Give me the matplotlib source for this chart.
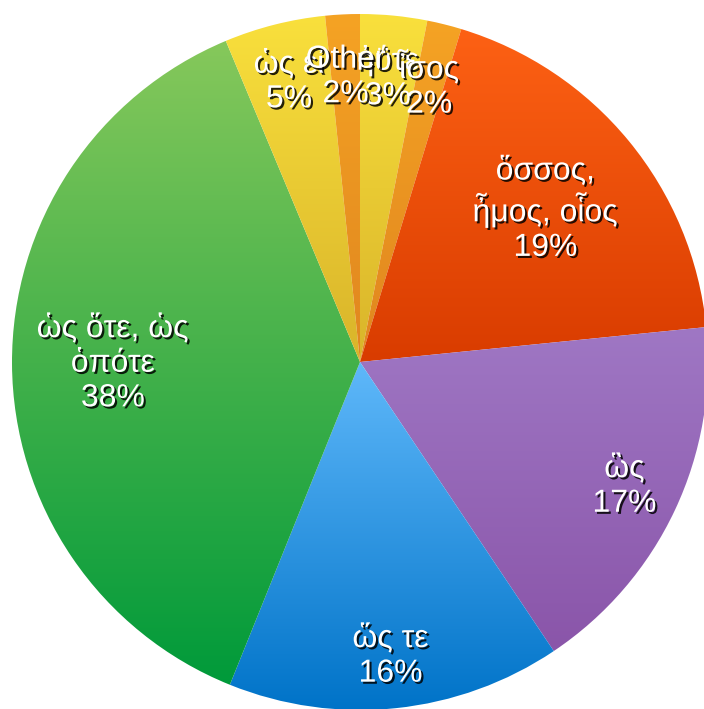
import numpy as np
import matplotlib
matplotlib.use("Agg")
import matplotlib.pyplot as plt
import matplotlib.patheffects as pe
from matplotlib.colors import LinearSegmentedColormap

plt.rcParams['font.family'] = ['Liberation Sans', 'DejaVu Sans']

labels = ["ἠΰτε", "ἶσος", "ὅσσος,\nἦμος, οἷος", "ὣς", "ὥς τε",
          "ὡς ὅτε, ὡς\nὁπότε", "ὡς εἰ", "Other"]
shares = [3.1, 1.6, 18.7, 17.2, 15.5, 37.6, 4.7, 1.6]
top_colors = ["#f9e03c", "#f5a324", "#fd6114", "#9f77c4", "#5fb8fa",
              "#86c85b", "#f9e03c", "#f5a324"]
bottom_colors = ["#d9b42a", "#e0861f", "#d93c00", "#8a55a9", "#0073c8",
                 "#009a3a", "#d9b42a", "#e0861f"]
label_radius = [0.82, 0.82, 0.69, 0.84, 0.85, 0.71, 0.83, 0.82]

W, H = 704, 709
cx, cy, R = 360, H - 362, 348

fig = plt.figure(figsize=(W / 100, H / 100), dpi=100)
ax = fig.add_axes([0, 0, 1, 1])

wedges, _ = ax.pie(shares, center=(cx, cy), radius=R, startangle=90,
                   counterclock=False, frame=True,
                   wedgeprops=dict(linewidth=0))

total = sum(shares)
for w, c0, c1, lab, fr, v in zip(wedges, top_colors, bottom_colors,
                                 labels, label_radius, shares):
    w.set_facecolor("none")
    bb = w.get_path().get_extents(w.get_patch_transform())
    cmap = LinearSegmentedColormap.from_list("g", [c1, c0])
    grad = np.linspace(0, 1, 256).reshape(-1, 1)
    im = ax.imshow(grad, cmap=cmap, origin="lower", aspect="auto",
                   extent=[bb.x0, bb.x1, bb.y0, bb.y1], zorder=1)
    im.set_clip_path(w)

    ang = np.deg2rad((w.theta1 + w.theta2) / 2)
    tx = cx + fr * R * np.cos(ang)
    ty = cy + fr * R * np.sin(ang)
    ax.text(tx, ty, f"{lab}\n{round(v / total * 100)}%", ha="center",
            va="center", fontsize=23, color="white", linespacing=1.2,
            zorder=5,
            path_effects=[pe.withSimplePatchShadow(offset=(1.5, -1.5),
                                                   shadow_rgbFace="black",
                                                   alpha=0.85)])

ax.set_xlim(0, W)
ax.set_ylim(0, H)
ax.set_aspect("equal")
ax.axis("off")

fig.savefig("out.png", dpi=100)
